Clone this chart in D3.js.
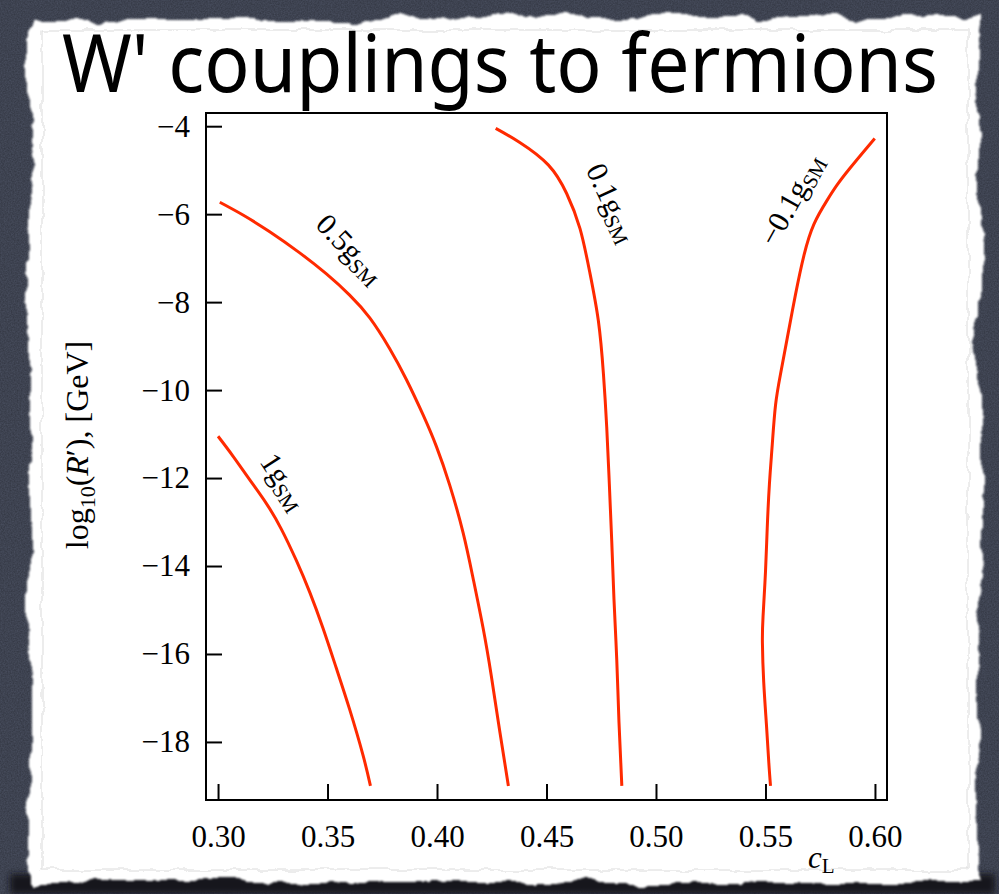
<!DOCTYPE html>
<html>
<head>
<meta charset="utf-8">
<script src="https://cdn.jsdelivr.net/npm/d3@7"></script>
<style>
  body { margin: 0; background: #4b5162; }
  svg { display: block; }
</style>
</head>
<body>
<svg width="999" height="894"></svg>
<script>
// axis ticks
const xTicks = [0.30, 0.35, 0.40, 0.45, 0.50, 0.55, 0.60];
const yTicks = [-4, -6, -8, -10, -12, -14, -16, -18];
const xLimits = [0.2945, 0.6055];
const yLimits = [-19.32, -3.70];

// contours: c_L and log10(R')
const cL_1 = [0.300, 0.3068, 0.3145, 0.3221, 0.3289, 0.3358, 0.3419, 0.3479, 0.3540, 0.3601, 0.3662, 0.3696];
const logR_1 = [-11.05, -11.50, -12.04, -12.58, -13.16, -13.88, -14.60, -15.41, -16.32, -17.26, -18.30, -19.0];

const cL_05 = [0.3008, 0.3114, 0.3236, 0.3373, 0.3495, 0.3601, 0.3693, 0.3784, 0.3860, 0.3936, 0.3997, 0.4058, 0.4119, 0.4164, 0.4210, 0.4248, 0.4286, 0.4326];
const logR_05 = [-5.73, -6.02, -6.40, -6.88, -7.36, -7.84, -8.36, -9.06, -9.76, -10.56, -11.28, -12.16, -13.24, -14.26, -15.40, -16.50, -17.74, -19.0];

const cL_01 = [0.4268, 0.4378, 0.4508, 0.4592, 0.4653, 0.4698, 0.4737, 0.4760, 0.4775, 0.4787, 0.4798, 0.4808, 0.4821, 0.4831, 0.4844];
const logR_01 = [-4.05, -4.37, -4.88, -5.53, -6.33, -7.33, -8.43, -9.63, -10.84, -12.14, -13.44, -14.74, -16.15, -17.55, -19.0];

const cL_m01 = [0.5999, 0.5950, 0.5882, 0.5828, 0.5782, 0.5721, 0.5676, 0.5637, 0.5599, 0.5569, 0.5546, 0.5531, 0.5518, 0.5508, 0.5500, 0.5489, 0.5486, 0.5492, 0.5505, 0.5515, 0.5523];
const logR_m01 = [-4.28, -4.57, -4.98, -5.33, -5.68, -6.23, -6.93, -7.83, -8.83, -9.63, -10.34, -11.24, -12.14, -13.14, -14.14, -15.14, -15.74, -16.64, -17.65, -18.45, -19.0];

// curve labels (coupling, where, angle)
const labelText = ["1", "0.5", "0.1", "\u22120.1"];
const labelC = [0.3297, 0.3600, 0.4795, 0.5621];
const labelR = [-12.09, -6.80, -5.75, -5.68];
const labelAngle = [57, 46, 65, -61];

const series = [
  cL_1.map((c, i) => [c, logR_1[i]]),
  cL_05.map((c, i) => [c, logR_05[i]]),
  cL_01.map((c, i) => [c, logR_01[i]]),
  cL_m01.map((c, i) => [c, logR_m01[i]])
];

const svg = d3.select("svg");
const W = 999, H = 894;
const serif = "'Liberation Serif', 'Times New Roman', 'DejaVu Serif', serif";

// filters for the torn paper look
const defs = svg.append("defs");
const rough = defs.append("filter").attr("id", "rough")
    .attr("x", "-5%").attr("y", "-5%").attr("width", "110%").attr("height", "110%");
rough.append("feTurbulence").attr("type", "fractalNoise").attr("baseFrequency", 0.022)
    .attr("numOctaves", 5).attr("seed", 3).attr("result", "n");
rough.append("feDisplacementMap").attr("in", "SourceGraphic").attr("in2", "n")
    .attr("scale", 18).attr("xChannelSelector", "R").attr("yChannelSelector", "G").attr("result", "d");
rough.append("feGaussianBlur").attr("in", "d").attr("stdDeviation", 0.9);

const rough2 = defs.append("filter").attr("id", "rough2")
    .attr("x", "-5%").attr("y", "-5%").attr("width", "110%").attr("height", "110%");
rough2.append("feTurbulence").attr("type", "fractalNoise").attr("baseFrequency", 0.05)
    .attr("numOctaves", 3).attr("seed", 11).attr("result", "n");
rough2.append("feDisplacementMap").attr("in", "SourceGraphic").attr("in2", "n")
    .attr("scale", 8).attr("xChannelSelector", "R").attr("yChannelSelector", "G");

const grain = defs.append("filter").attr("id", "grain");
grain.append("feTurbulence").attr("type", "fractalNoise").attr("baseFrequency", 0.7)
    .attr("numOctaves", 2).attr("seed", 5).attr("result", "t");
grain.append("feColorMatrix").attr("in", "t").attr("type", "matrix")
    .attr("values", "0 0 0 0 0  0 0 0 0 0  0 0 0 0 0  0 0 0 0.35 0");

const shade = defs.append("filter").attr("id", "shade")
    .attr("x", "-10%").attr("y", "-50%").attr("width", "120%").attr("height", "200%");
shade.append("feGaussianBlur").attr("stdDeviation", 3);

// background
svg.append("rect").attr("width", W).attr("height", H).attr("fill", "#4b5162");
svg.append("rect").attr("width", W).attr("height", H).attr("filter", "url(#grain)");
svg.append("rect").attr("x", 10).attr("y", 874).attr("width", 985).attr("height", 20)
    .attr("fill", "#17191e").attr("filter", "url(#shade)");

// paper
svg.append("rect").attr("x", 30).attr("y", 18).attr("width", 950).attr("height", 864)
    .attr("fill", "#ffffff").attr("filter", "url(#rough)");
svg.append("rect").attr("x", 42).attr("y", 30).attr("width", 926).attr("height", 840)
    .attr("fill", "none").attr("stroke", "#dadada").attr("stroke-width", 1)
    .attr("filter", "url(#rough2)");

// title
svg.append("text")
    .attr("x", 62).attr("y", 92)
    .attr("textLength", 876).attr("lengthAdjust", "spacingAndGlyphs")
    .style("font-family", "'Noto Sans', 'DejaVu Sans', sans-serif")
    .style("font-size", "80px")
    .attr("fill", "#000")
    .text("W' couplings to fermions");

// scales
const x = d3.scaleLinear().domain(xLimits).range([206, 887]);
const y = d3.scaleLinear().domain(yLimits).range([800, 113]);

// axes
const xAxis = svg.append("g")
    .attr("transform", `translate(0,${y(yLimits[0])})`)
    .call(d3.axisBottom(x).tickValues(xTicks).tickFormat(d3.format(".2f"))
        .tickSizeInner(-16).tickSizeOuter(0).tickPadding(25));
const yAxis = svg.append("g")
    .attr("transform", `translate(${x(xLimits[0])},0)`)
    .call(d3.axisLeft(y).tickValues(yTicks).tickFormat(d3.format("d"))
        .tickSizeInner(-16).tickSizeOuter(0).tickPadding(16));

[xAxis, yAxis].forEach(g => {
    g.attr("font-family", null).attr("font-size", null);
    g.select(".domain").remove();
    g.selectAll(".tick line").attr("stroke", "#000").attr("stroke-width", 2);
    g.selectAll(".tick text")
        .style("font-family", serif).style("font-size", "31px").attr("fill", "#000");
});

// frame
svg.append("rect")
    .attr("x", x(xLimits[0])).attr("y", y(yLimits[1]))
    .attr("width", x(xLimits[1]) - x(xLimits[0]))
    .attr("height", y(yLimits[0]) - y(yLimits[1]))
    .attr("fill", "none").attr("stroke", "#000").attr("stroke-width", 2);

// curves
const line = d3.line()
    .x(d => x(d[0]))
    .y(d => y(d[1]))
    .curve(d3.curveNatural);

svg.append("g").selectAll("path")
    .data(series)
    .join("path")
    .attr("d", line)
    .attr("fill", "none")
    .attr("stroke", "#ff2a00")
    .attr("stroke-width", 3);

// curve labels
const lbl = svg.append("g").selectAll("text")
    .data(labelText)
    .join("text")
    .attr("transform", (d, i) => `translate(${x(labelC[i])},${y(labelR[i])}) rotate(${labelAngle[i]})`)
    .attr("text-anchor", "middle")
    .attr("dy", "0.3em")
    .style("font-family", serif)
    .style("font-size", "30px")
    .attr("fill", "#000");
lbl.append("tspan").text(d => d + "g");
lbl.append("tspan").style("font-size", "21px").attr("dy", 5).text("SM");

// axis titles
const yt = svg.append("text")
    .attr("transform", "translate(88,445) rotate(-90)")
    .attr("text-anchor", "middle")
    .style("font-family", serif)
    .style("font-size", "32px")
    .attr("fill", "#000");
yt.append("tspan").text("log");
yt.append("tspan").style("font-size", "22px").attr("dy", 7).text("10");
yt.append("tspan").attr("dy", -7).text("(");
yt.append("tspan").style("font-style", "italic").text("R");
yt.append("tspan").text("\u2032), [GeV]");

const xt = svg.append("text")
    .attr("x", 808).attr("y", 868)
    .style("font-family", serif)
    .style("font-size", "31px")
    .attr("fill", "#000");
xt.append("tspan").style("font-style", "italic").text("c");
xt.append("tspan").style("font-size", "21px").attr("dy", 5).text("L");
</script>
</body>
</html>
